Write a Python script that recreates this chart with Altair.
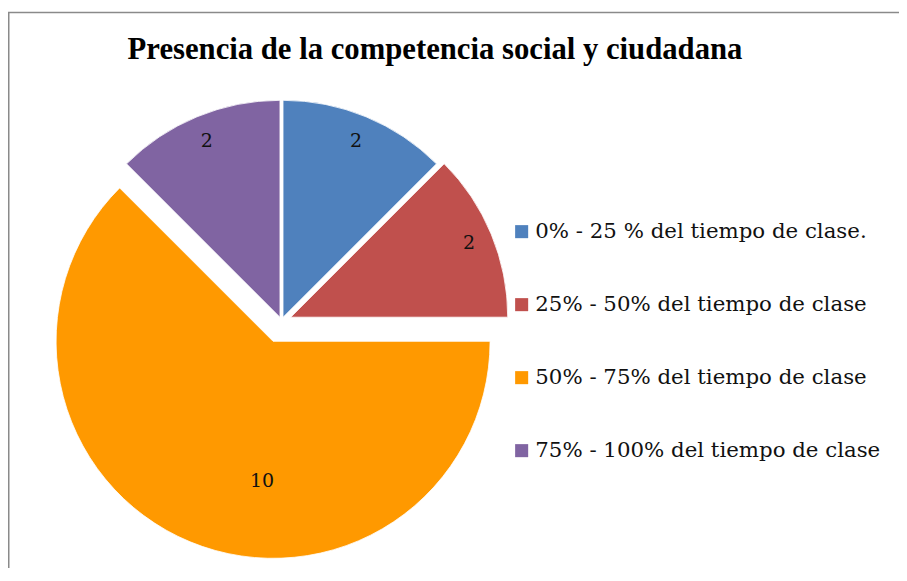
import altair as alt
import pandas as pd

# ---- data ----
categories = [
    "0% - 25 % del tiempo de clase.",
    "25% - 50% del tiempo de clase",
    "50% - 75% del tiempo de clase",
    "75% - 100% del tiempo de clase",
]
values = [2, 2, 10, 2]
colors = ["#4F81BD", "#C0504D", "#FF9900", "#8064A2"]
title_text = "Presencia  de la competencia social y ciudadana"

# ---- style (layout only) ----
explode = [4, 10, 22, 4]          # px each slice is pulled out
label_radius = [191, 193, 140, 191]
label_shift = [0, 0, -18, 0]      # degrees
CX, CY, R = 273.5, 313, 217
W, H = 891, 560

df = pd.DataFrame({
    "cat": categories,
    "value": values,
    "idx": list(range(len(values))),
    "explode": explode,
    "lr": label_radius,
    "ls": label_shift,
})

base = (
    alt.Chart(df)
    .transform_joinaggregate(total="sum(value)")
    .transform_window(cum="sum(value)", sort=[alt.SortField("idx")])
    .transform_calculate(mid="2*PI*(datum.cum - datum.value/2)/datum.total")
    .transform_calculate(
        cx=f"{CX} + datum.explode*sin(datum.mid)",
        cy=f"{CY} - datum.explode*cos(datum.mid)",
    )
    .transform_calculate(
        lx="datum.cx + datum.lr*sin(datum.mid + datum.ls*PI/180)",
        ly="datum.cy - datum.lr*cos(datum.mid + datum.ls*PI/180)",
    )
)

arcs = base.mark_arc(outerRadius=R, stroke="white", strokeWidth=0.8).encode(
    theta=alt.Theta("value:Q", stack=True),
    order=alt.Order("idx:Q"),
    color=alt.Color(
        "cat:N",
        scale=alt.Scale(domain=categories, range=colors),
        legend=alt.Legend(
            title=None,
            orient="none",
            legendX=503,
            legendY=213,
            symbolType="square",
            symbolSize=170,
            symbolStrokeWidth=0,
            labelFont="DejaVu Serif",
            labelFontSize=21.3,
            labelColor="#111111",
            labelOffset=3,
            labelLimit=500,
            rowPadding=51,
        ),
    ),
    x=alt.X("cx:Q", scale=None, axis=None),
    y=alt.Y("cy:Q", scale=None, axis=None),
)

labels = base.mark_text(font="DejaVu Serif", fontSize=19, color="#111111",
                        align="center", baseline="middle").encode(
    x=alt.X("lx:Q", scale=None, axis=None),
    y=alt.Y("ly:Q", scale=None, axis=None),
    text=alt.Text("value:Q"),
)

title = alt.Chart(pd.DataFrame({"t": [title_text]})).mark_text(
    font="Liberation Serif", fontSize=30.7, fontWeight="bold", color="#000000",
    align="center", baseline="alphabetic",
).encode(text="t:N", x=alt.value(427), y=alt.value(51))

border = alt.Chart(pd.DataFrame({"a": [0]})).mark_rect(
    filled=False, stroke="#8a8a8a", strokeWidth=1.5
).encode(x=alt.value(0.75), x2=alt.value(W + 50), y=alt.value(4.5), y2=alt.value(H + 50))

chart = (
    alt.layer(border, arcs, labels, title)
    .properties(width=W, height=H, autosize=alt.AutoSizeParams(type="none"), padding=0)
    .configure_view(stroke=None)
)

chart.save("out.html", embed_options={"renderer": "svg", "actions": False})
